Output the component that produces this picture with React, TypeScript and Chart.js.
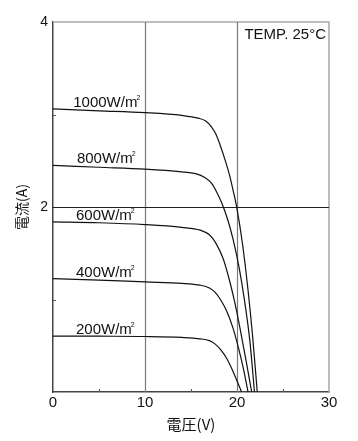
import { useEffect, useRef } from "react";
import { Chart, registerables } from "chart.js";

Chart.register(...registerables);

// ---- data ----
const seriesLabels = ["1000W/m", "800W/m", "600W/m", "400W/m", "200W/m"];

const v1000 = [0, 5, 10, 14, 15.8, 16.6, 17.2, 17.7, 18.2, 18.7, 19.2, 19.6, 20.0, 20.6, 21.2, 21.7, 22.2];
const i1000 = [3.06, 3.04, 3.02, 2.99, 2.96, 2.93, 2.87, 2.79, 2.66, 2.51, 2.34, 2.17, 1.98, 1.6, 1.1, 0.6, 0];

const v800 = [0, 5, 10, 14, 15.5, 16.5, 17.2, 17.8, 18.4, 19.0, 19.6, 20.2, 20.8, 21.4, 21.9];
const i800 = [2.45, 2.43, 2.41, 2.38, 2.36, 2.32, 2.26, 2.16, 2.03, 1.86, 1.64, 1.36, 1.0, 0.55, 0];

const v600 = [0, 5, 10, 14, 16, 17, 17.7, 18.5, 19.2, 19.8, 20.4, 21.0, 21.6];
const i600 = [1.84, 1.83, 1.81, 1.78, 1.75, 1.7, 1.61, 1.44, 1.2, 0.95, 0.65, 0.33, 0];

const v400 = [0, 5, 10, 14, 16, 17, 17.6, 18.2, 18.9, 19.6, 20.2, 20.7, 21.2];
const i400 = [1.225, 1.21, 1.19, 1.175, 1.155, 1.125, 1.08, 1.0, 0.87, 0.68, 0.46, 0.25, 0];

const v200 = [0, 5, 10, 14, 16, 17, 17.6, 18.2, 18.9, 19.4, 20.0, 20.5];
const i200 = [0.605, 0.603, 0.6, 0.59, 0.575, 0.555, 0.52, 0.46, 0.36, 0.26, 0.12, 0];

const xTicks = [0, 10, 20, 30];
const yTicks = [2, 4];
const xMinorTicks = [5, 15, 25];
const yMinorTicks = [1, 3];
const xGridValues = [10, 20];
const yGridValues = [2];

const tempLabel = "TEMP. 25°C";
const xTitle = "電圧(V)";
const yTitle = "電流(A)";

const labelAnchorV = [2.2, 2.6, 2.5, 2.5, 2.5];

const LATIN = "'Liberation Sans', Arial, sans-serif";
const CJK = "'Noto Sans CJK JP', sans-serif";

function pts(v: number[], c: number[]) {
  return v.map((x, k) => ({ x, y: c[k] }));
}

const decorPlugin = {
  id: "decor",
  beforeDatasetsDraw(chart: any) {
    const { ctx, chartArea: a, scales } = chart;
    const xs = scales.x;
    const ys = scales.y;
    ctx.save();
    // frame top & right (light gray)
    ctx.strokeStyle = "#a8a8a8";
    ctx.lineWidth = 1.5;
    ctx.beginPath();
    ctx.moveTo(a.left, a.top);
    ctx.lineTo(a.right, a.top);
    ctx.lineTo(a.right, a.bottom);
    ctx.stroke();
    // vertical grid
    ctx.strokeStyle = "#7a7a7a";
    ctx.lineWidth = 1.2;
    xGridValues.forEach((v) => {
      const px = Math.round(xs.getPixelForValue(v)) + 0.5;
      ctx.beginPath();
      ctx.moveTo(px, a.top);
      ctx.lineTo(px, a.bottom);
      ctx.stroke();
    });
    // horizontal grid
    ctx.strokeStyle = "#222";
    ctx.lineWidth = 1;
    yGridValues.forEach((v) => {
      const py = Math.round(ys.getPixelForValue(v)) + 0.5;
      ctx.beginPath();
      ctx.moveTo(a.left, py);
      ctx.lineTo(a.right, py);
      ctx.stroke();
    });
    // minor ticks (inward)
    ctx.strokeStyle = "#555";
    ctx.lineWidth = 1;
    xMinorTicks.forEach((v) => {
      const px = Math.round(xs.getPixelForValue(v)) + 0.5;
      ctx.beginPath();
      ctx.moveTo(px, a.bottom);
      ctx.lineTo(px, a.bottom - 3);
      ctx.stroke();
    });
    yMinorTicks.forEach((v) => {
      const py = Math.round(ys.getPixelForValue(v)) + 0.5;
      ctx.beginPath();
      ctx.moveTo(a.left, py);
      ctx.lineTo(a.left + 3, py);
      ctx.stroke();
    });
    ctx.restore();
  },
  afterDatasetsDraw(chart: any) {
    const { ctx, chartArea: a, scales } = chart;
    const xs = scales.x;
    const ys = scales.y;
    ctx.save();
    ctx.fillStyle = "#111";
    ctx.textBaseline = "alphabetic";
    ctx.textAlign = "left";
    chart.data.datasets.forEach((ds: any, k: number) => {
      const first = ds.data[0];
      const px = xs.getPixelForValue(labelAnchorV[k]);
      const py = ys.getPixelForValue(first.y) - 2;
      ctx.font = `15px ${LATIN}`;
      ctx.fillText(seriesLabels[k], px, py);
      const w = ctx.measureText(seriesLabels[k]).width;
      ctx.font = `7px ${LATIN}`;
      ctx.fillText("2", px + w - 1, py - 7);
    });
    // temperature note
    ctx.font = `15px ${LATIN}`;
    ctx.textAlign = "right";
    ctx.fillText(tempLabel, a.right - 3, a.top + 17);
    ctx.restore();
  },
};

export default function App() {
  const ref = useRef<HTMLCanvasElement | null>(null);

  useEffect(() => {
    if (!ref.current) return;
    const series = [
      pts(v1000, i1000),
      pts(v800, i800),
      pts(v600, i600),
      pts(v400, i400),
      pts(v200, i200),
    ];
    const chart = new Chart(ref.current, {
      type: "line",
      data: {
        datasets: series.map((d, k) => ({
          label: seriesLabels[k],
          data: d,
          borderColor: "#111",
          borderWidth: 1.2,
          pointRadius: 0,
          fill: false,
          cubicInterpolationMode: "monotone" as const,
        })),
      },
      options: {
        animation: false,
        responsive: false,
        devicePixelRatio: 1,
        layout: { padding: { top: 22, right: 29, left: 0, bottom: 0 } },
        plugins: { legend: { display: false }, tooltip: { enabled: false } },
        scales: {
          x: {
            type: "linear",
            min: 0,
            max: 30,
            afterBuildTicks: (s: any) => {
              s.ticks = xTicks.map((value) => ({ value }));
            },
            afterFit: (s: any) => {
              s.height = 49;
            },
            ticks: {
              font: { family: LATIN, size: 15 },
              color: "#111",
              padding: 2,
              maxRotation: 0,
              autoSkip: false,
            },
            grid: { display: false, drawTicks: false },
            border: { display: true, color: "#444", width: 1.5 },
            title: {
              display: true,
              text: xTitle,
              font: { family: CJK, size: 15 },
              color: "#111",
              padding: { top: 0, bottom: 8 },
            },
          },
          y: {
            type: "linear",
            min: 0,
            max: 4,
            afterBuildTicks: (s: any) => {
              s.ticks = yTicks.map((value) => ({ value }));
            },
            afterFit: (s: any) => {
              s.width = 53;
            },
            ticks: {
              font: { family: LATIN, size: 14 },
              color: "#111",
              padding: 5,
              autoSkip: false,
            },
            grid: { display: false, drawTicks: false },
            border: { display: true, color: "#444", width: 1.5 },
            title: {
              display: true,
              text: yTitle,
              font: { family: CJK, size: 14 },
              color: "#111",
              padding: { top: 13, bottom: 0 },
            },
          },
        },
      },
      plugins: [decorPlugin],
    });
    return () => chart.destroy();
  }, []);

  return (
    <div style={{ position: "fixed", left: 0, top: 0, width: 358, height: 441, background: "#fff" }}>
      <canvas ref={ref} width={358} height={441} style={{ display: "block" }} />
    </div>
  );
}
